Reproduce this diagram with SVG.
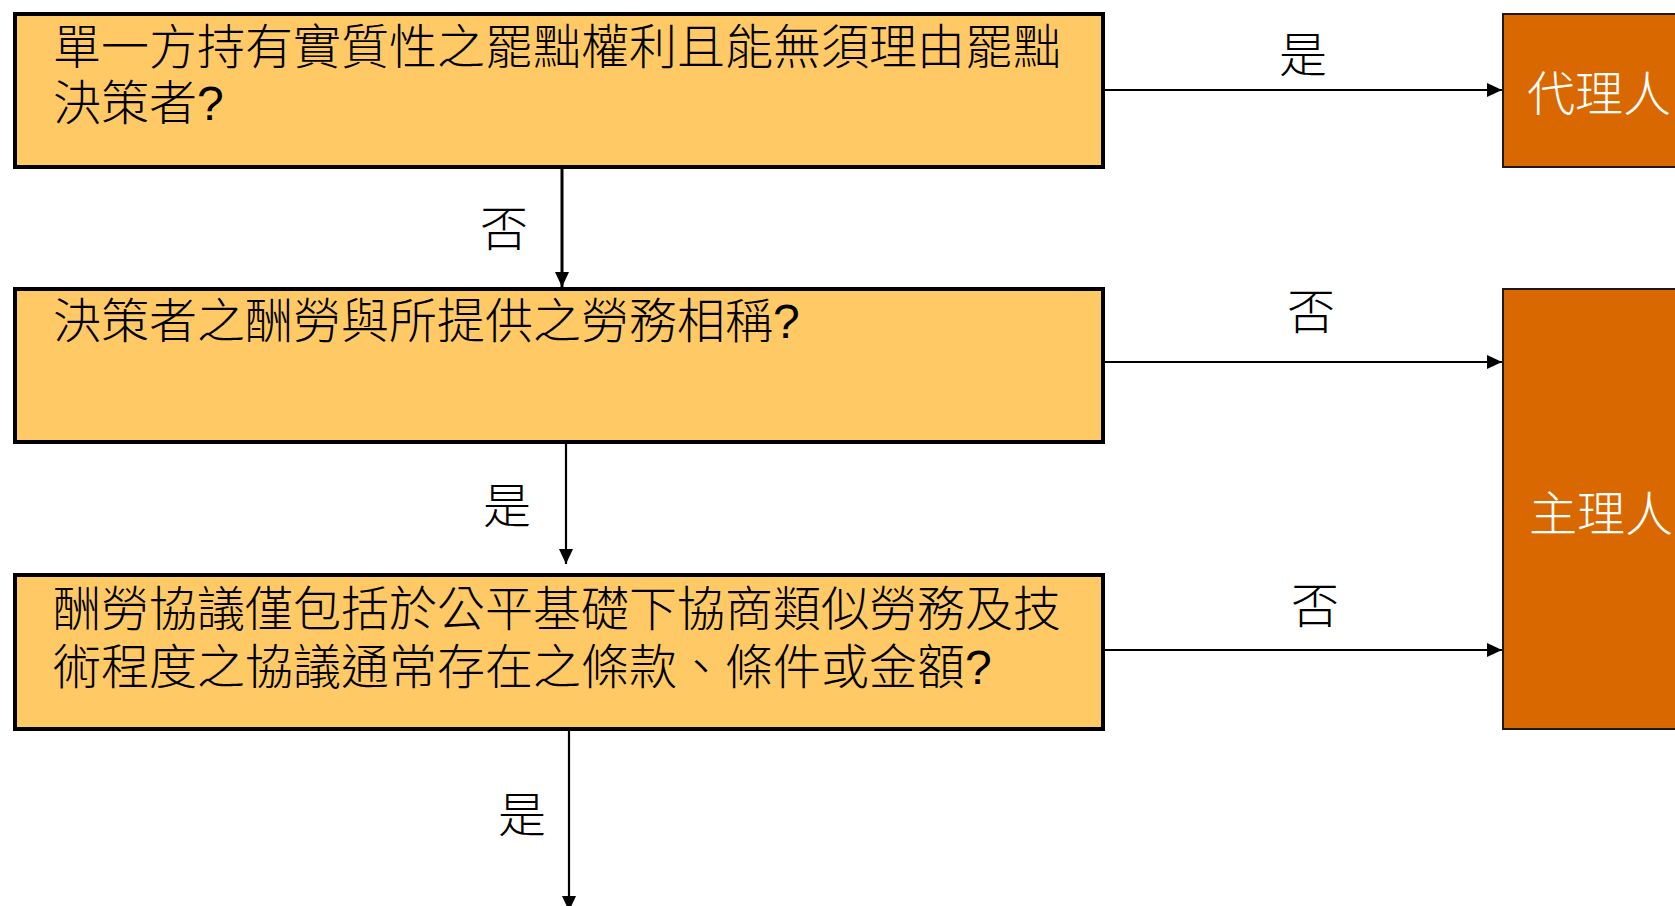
<svg xmlns="http://www.w3.org/2000/svg" width="1675" height="906" viewBox="0 0 1675 906">
<style>
.q{fill:#FFCA66;stroke:#000;stroke-width:4}
.r{fill:#D96800;stroke:#1a1a1a;stroke-width:2}
.t{font-family:"Liberation Sans","Noto Sans CJK TC",sans-serif;font-size:48px;font-weight:300;fill:#000}
.w{font-family:"Liberation Sans","Noto Sans CJK TC",sans-serif;font-size:48px;font-weight:300;fill:#fff}
.c{stroke:#000;stroke-width:2.2;fill:none;marker-end:url(#ah)}
</style>
<defs>
<marker id="ah" markerWidth="15" markerHeight="14" refX="15" refY="7" orient="auto" markerUnits="userSpaceOnUse">
<path d="M0,0 L15,7 L0,14 Z" fill="#000"/>
</marker>
</defs>
<rect width="1675" height="906" fill="#fff"/>
<g id="connectors">
<line class="c" x1="1105" y1="90" x2="1502" y2="90"/>
<line class="c" x1="562" y1="169" x2="562" y2="287" style="stroke-width:3"/>
<line class="c" x1="1105" y1="362" x2="1502" y2="362"/>
<line class="c" x1="566" y1="444" x2="566" y2="564"/>
<line class="c" x1="1105" y1="650" x2="1502" y2="650"/>
<line class="c" x1="569" y1="731" x2="569" y2="911"/>
<text class="t" x="1303" y="72" text-anchor="middle">是</text>
<text class="t" x="504" y="246" text-anchor="middle">否</text>
<text class="t" x="1311" y="329" text-anchor="middle">否</text>
<text class="t" x="507" y="523" text-anchor="middle">是</text>
<text class="t" x="1315" y="623" text-anchor="middle">否</text>
<text class="t" x="522" y="832" text-anchor="middle">是</text>
</g>
<g id="q1">
<rect class="q" x="15" y="14" width="1088" height="153"/>
<text class="t" x="53" y="64">單一方持有實質性之罷黜權利且能無須理由罷黜</text>
<text class="t" x="53" y="120">決策者?</text>
</g>
<g id="q2">
<rect class="q" x="15" y="289" width="1088" height="153"/>
<text class="t" x="53" y="338">決策者之酬勞與所提供之勞務相稱?</text>
</g>
<g id="q3">
<rect class="q" x="15" y="575" width="1088" height="154"/>
<text class="t" x="53" y="626">酬勞協議僅包括於公平基礎下協商類似勞務及技</text>
<text class="t" x="53" y="684">術程度之協議通常存在之條款、條件或金額?</text>
</g>
<g id="agent">
<rect class="r" x="1503" y="14" width="200" height="153"/>
<text class="w" x="1527" y="111">代理人</text>
</g>
<g id="principal">
<rect class="r" x="1503" y="289" width="200" height="440"/>
<text class="w" x="1529" y="531">主理人</text>
</g>
</svg>
